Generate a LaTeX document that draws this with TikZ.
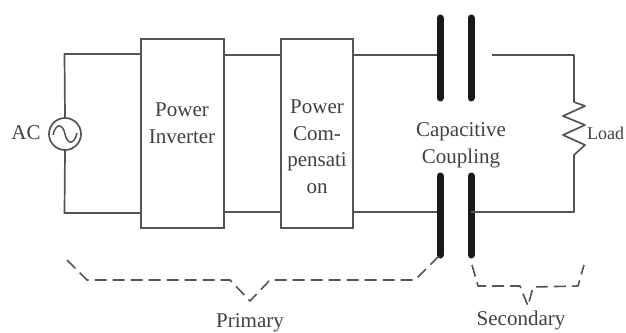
\documentclass[tikz,border=0pt]{standalone}
\usepackage{fontspec}
\setmainfont{Liberation Serif}
\definecolor{wirec}{gray}{0.33}
\definecolor{textc}{gray}{0.25}
\tikzset{
 x=1pt,y=-1pt,
 wire/.style={draw=wirec,line width=1.7pt},
 blockbox/.style={draw=wirec,line width=1.7pt,fill=white,minimum width=#1,minimum height=189pt,inner sep=0pt},
 plate/.style={draw=black!90,line width=7pt,line cap=round},
 brace/.style={draw=wirec,line width=1.6pt,dash pattern=on 12pt off 6pt},
 lbl/.style={text=textc,font=\fontsize{21}{26.5}\selectfont,align=center,inner sep=0pt},
}
\begin{document}
\begin{tikzpicture}
\useasboundingbox (0,0) rectangle (626,332);
\node[blockbox=83pt] (inv) at (182.5,133.5) {};
\node[blockbox=72pt] (comp) at (317,133.5) {};
\node[circle,draw=wirec,line width=1.7pt,minimum size=32pt,inner sep=0pt] (ac) at (65,134) {};
\coordinate (tl) at (64.5,54);
\coordinate (bl) at (64.5,213);
\draw[wire] (ac.north) -- (tl) -- (inv.west |- tl);
\draw[wire] (ac.south) -- (bl) -- (inv.west |- bl);
\draw[wire] (inv.east |- 0,55) -- (comp.west |- 0,55);
\draw[wire] (inv.east |- 0,212) -- (comp.west |- 0,212);
\coordinate (c1t) at (440,18);
\coordinate (c1m) at (440,98);
\coordinate (c2t) at (471,18);
\coordinate (c2m) at (471,98);
\coordinate (c1n) at (440,176);
\coordinate (c1b) at (440,255);
\coordinate (c2n) at (471,176);
\coordinate (c2b) at (471,255);
\draw[wire] (comp.east |- 0,55) -- (c1t |- 0,55);
\draw[wire] (comp.east |- 0,212) -- (c1n |- 0,212);
\draw[plate] (c1t) -- (c1m);
\draw[plate] (c2t) -- (c2m);
\draw[plate] (c1n) -- (c1b);
\draw[plate] (c2n) -- (c2b);
\coordinate (rt) at (574,55);
\coordinate (rb) at (574,212);
\draw[wire,line join=round] (492,55) -- (rt) -- (574,102) -- (585,106) -- (563,116) -- (585,125) -- (563,135) -- (585,145) -- (574,155) -- (rb) -- (c2n |- rb);
\draw[wirec,line width=1.5pt] (53,135) .. controls (56,122) and (63,124) .. (65,134) .. controls (67,144) and (74,146) .. (77,133);
\node[lbl] (tac) at (26,133) {AC};
\node[lbl] (tinv) at (182,123) {Power\\Inverter};
\node[lbl] (tcomp) at (317,146.5) {Power\\Com-\\pensati\\on};
\node[lbl] (tcap) at (461,145.5) {Capacitive\\Coupling};
\node[lbl,anchor=west,font=\fontsize{18}{22}\selectfont] (tload) at (587,133) {Load};
\draw[brace,line join=round] (67,260) -- (87,280) -- (230,280) -- (250,301) -- (270,280) -- (415,280) -- (c1b);
\draw[brace,line join=round] (472,265) -- (478,286) -- (520,286) -- (528,306) -- (533,287) -- (578,286) -- (584,265);
\node[lbl] (tpri) at (250,322.5) {Primary};
\node[lbl] (tsec) at (521,320) {Secondary};
\end{tikzpicture}
\end{document}
